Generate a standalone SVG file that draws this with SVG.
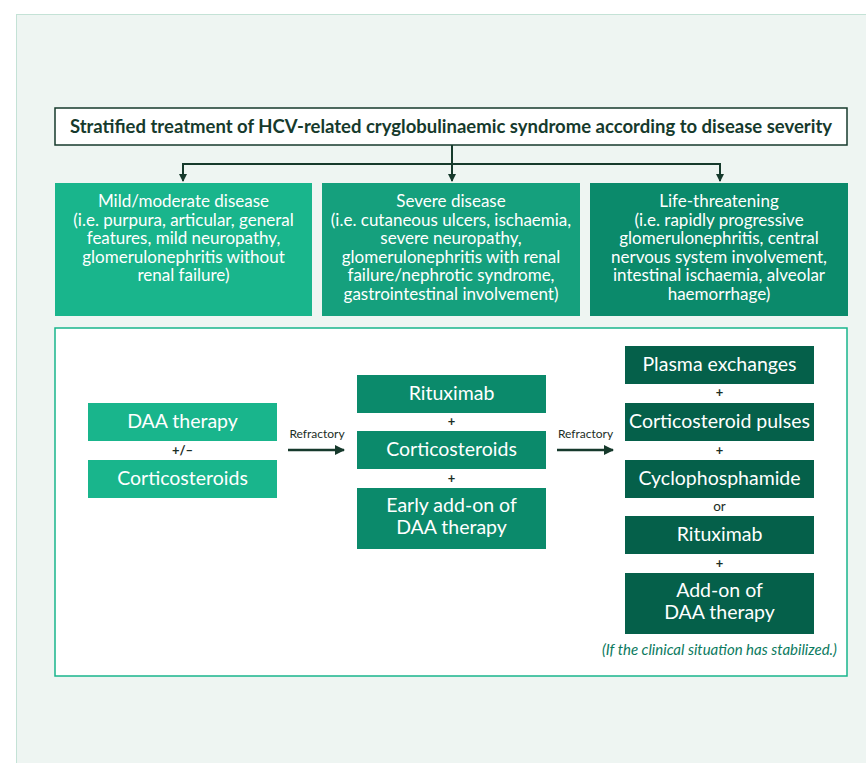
<svg xmlns="http://www.w3.org/2000/svg" width="866" height="763" viewBox="0 0 866 763">
<defs>
<style>
.t{font-family:Lato,"Noto Sans","Liberation Sans",sans-serif;}
.w{fill:#ffffff;text-anchor:middle;}
.sm{font-size:17px;}
.lg{font-size:19.5px;}
.plus{font-family:Lato,"Liberation Sans",sans-serif;font-size:13px;font-weight:bold;fill:#1b2e26;text-anchor:middle;}
.ref{font-family:Lato,"Liberation Sans",sans-serif;font-size:12px;fill:#1b2e26;text-anchor:middle;}
.or{font-family:Lato,"Liberation Sans",sans-serif;font-size:13.5px;fill:#1b2e26;text-anchor:middle;}
.c1{fill:#19b58c;}
.c2{fill:#15a07d;}
.c3{fill:#0b8a6b;}
.c4{fill:#05604a;}
.ln{stroke:#163a2c;stroke-width:2;fill:none;}
.ar{stroke:#163a2c;stroke-width:2.5;fill:none;}
</style>
<marker id="ah" markerWidth="8" markerHeight="8" refX="7" refY="4" orient="auto" markerUnits="userSpaceOnUse" viewBox="0 0 8 8">
<path d="M0,0 L8,4 L0,8 z" fill="#163a2c"/>
</marker>
<marker id="ah2" markerWidth="10" markerHeight="10" refX="9" refY="5" orient="auto" markerUnits="userSpaceOnUse" viewBox="0 0 10 10">
<path d="M0,0 L10,5 L0,10 z" fill="#163a2c"/>
</marker>
</defs>
<rect x="0" y="0" width="866" height="763" fill="#ffffff"/>
<rect x="16.5" y="14.5" width="860" height="760" fill="#eef5f2" stroke="#c4e2d6" stroke-width="1"/>

<g id="panel">
<rect x="55" y="328" width="792" height="348" fill="#ffffff" stroke="#19b58c" stroke-width="1.5"/>
</g>

<g id="title">
<rect x="55" y="108" width="792" height="37" fill="#ffffff" stroke="#163a2c" stroke-width="1.5"/>
<text class="t" x="451" y="133" font-size="18.5" font-weight="bold" fill="#163a2c" text-anchor="middle">Stratified treatment of HCV-related cryglobulinaemic syndrome according to disease severity</text>
</g>

<g id="connectors">
<path class="ln" d="M452,145 V164 M183,164 H720"/>
<path class="ln" d="M183,163 V181" marker-end="url(#ah)"/>
<path class="ln" d="M452,164 V181" marker-end="url(#ah)"/>
<path class="ln" d="M720,163 V181" marker-end="url(#ah)"/>
<path class="ar" d="M288,450 H344" marker-end="url(#ah2)"/>
<path class="ar" d="M557,450 H613" marker-end="url(#ah2)"/>
</g>

<g id="mild">
<rect class="c1" x="55" y="183" width="257" height="133"/>
<text class="t w sm"><tspan x="183.5" y="207">Mild/moderate disease</tspan><tspan x="183.5" y="225.5">(i.e. purpura, articular, general</tspan><tspan x="183.5" y="244">features, mild neuropathy,</tspan><tspan x="183.5" y="262.5">glomerulonephritis without</tspan><tspan x="183.5" y="281">renal failure)</tspan></text>
</g>

<g id="severe">
<rect class="c2" x="322" y="183" width="258" height="133"/>
<text class="t w sm"><tspan x="451" y="207">Severe disease</tspan><tspan x="451" y="225.5">(i.e. cutaneous ulcers, ischaemia,</tspan><tspan x="451" y="244">severe neuropathy,</tspan><tspan x="451" y="262.5">glomerulonephritis with renal</tspan><tspan x="451" y="281">failure/nephrotic syndrome,</tspan><tspan x="451" y="299.5">gastrointestinal involvement)</tspan></text>
</g>

<g id="life">
<rect class="c3" x="590" y="183" width="258" height="133"/>
<text class="t w sm"><tspan x="719" y="207">Life-threatening</tspan><tspan x="719" y="225.5">(i.e. rapidly progressive</tspan><tspan x="719" y="244">glomerulonephritis, central</tspan><tspan x="719" y="262.5">nervous system involvement,</tspan><tspan x="719" y="281">intestinal ischaemia, alveolar</tspan><tspan x="719" y="299.5">haemorrhage)</tspan></text>
</g>

<g id="col1">
<rect class="c1" x="88" y="403" width="189" height="38"/>
<text class="t w lg" x="182.5" y="428">DAA therapy</text>
<text class="plus" x="182.5" y="455">+/–</text>
<rect class="c1" x="88" y="460" width="189" height="38"/>
<text class="t w lg" x="182.5" y="485">Corticosteroids</text>
</g>

<g id="ref1">
<text class="ref" x="317" y="438">Refractory</text>
</g>

<g id="col2">
<rect class="c3" x="357" y="375" width="189" height="38"/>
<text class="t w lg" x="451.5" y="400">Rituximab</text>
<text class="plus" x="451.5" y="426">+</text>
<rect class="c3" x="357" y="431" width="189" height="38"/>
<text class="t w lg" x="451.5" y="456">Corticosteroids</text>
<text class="plus" x="451.5" y="483">+</text>
<rect class="c3" x="357" y="488" width="189" height="61"/>
<text class="t w lg"><tspan x="451.5" y="512">Early add-on of</tspan><tspan x="451.5" y="534">DAA therapy</tspan></text>
</g>

<g id="ref2">
<text class="ref" x="585.5" y="438">Refractory</text>
</g>

<g id="col3">
<rect class="c4" x="625" y="346" width="189" height="38"/>
<text class="t w lg" x="719.5" y="371">Plasma exchanges</text>
<text class="plus" x="719.5" y="397">+</text>
<rect class="c4" x="625" y="403" width="189" height="38"/>
<text class="t w lg" x="719.5" y="428">Corticosteroid pulses</text>
<text class="plus" x="719.5" y="455">+</text>
<rect class="c4" x="625" y="460" width="189" height="38"/>
<text class="t w lg" x="719.5" y="485">Cyclophosphamide</text>
<text class="or" x="719.5" y="511">or</text>
<rect class="c4" x="625" y="516" width="189" height="38"/>
<text class="t w lg" x="719.5" y="541">Rituximab</text>
<text class="plus" x="719.5" y="568">+</text>
<rect class="c4" x="625" y="573" width="189" height="61"/>
<text class="t w lg"><tspan x="719.5" y="597">Add-on of</tspan><tspan x="719.5" y="619">DAA therapy</tspan></text>
<text class="t" x="837" y="655" font-size="15" font-style="italic" fill="#0b7a5e" text-anchor="end">(If the clinical situation has stabilized.)</text>
</g>
</svg>
